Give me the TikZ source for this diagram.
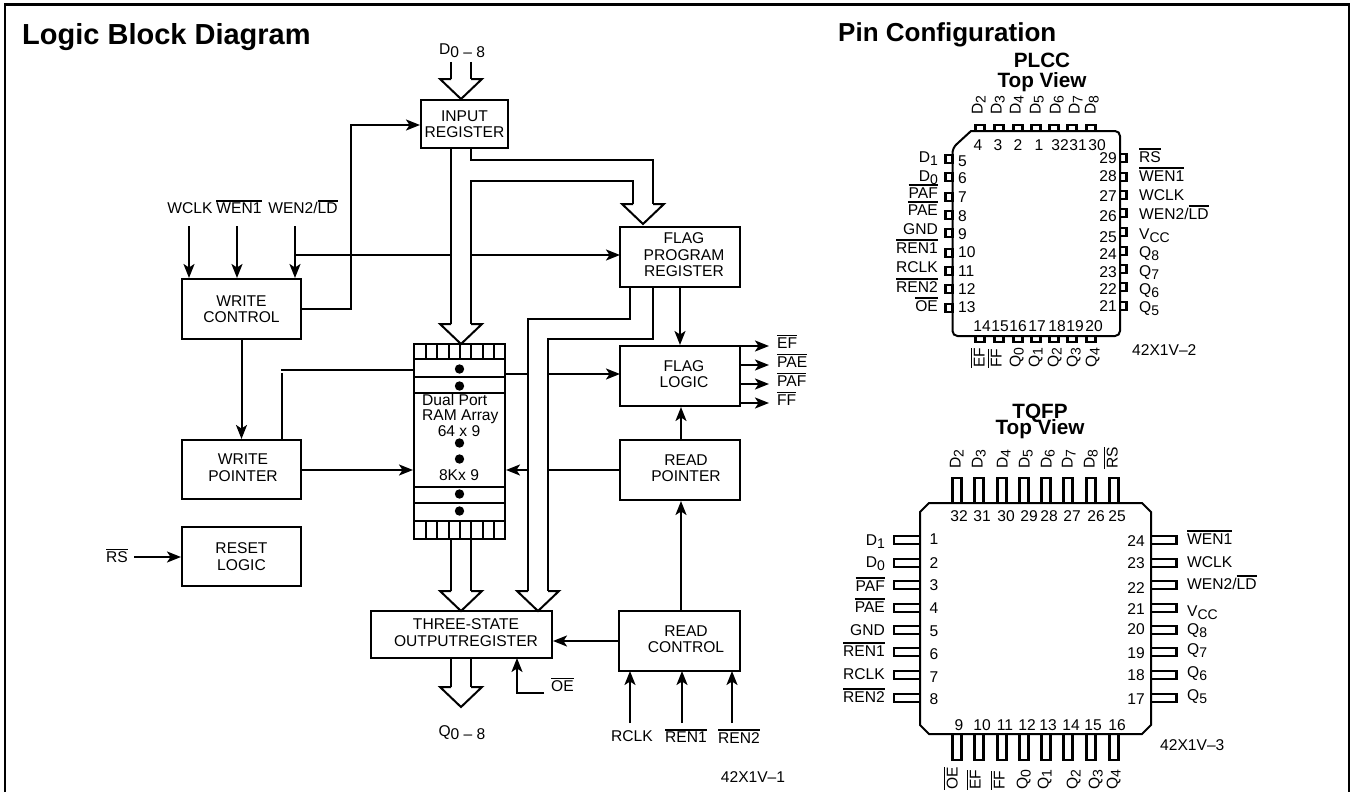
\documentclass[tikz,border=0pt]{standalone}
\usepackage{fontspec}
\setmainfont{Liberation Sans}
\usetikzlibrary{arrows.meta}

\newcommand{\ovl}[1]{\leavevmode\vbox{\hrule height 1.6pt \kern1.6pt\hbox{#1}}}
\newcommand{\pinsub}[2]{#1\raisebox{-3pt}{\fontsize{14}{14}\selectfont #2}}
\newcommand{\nudged}[2]{\hspace*{#1}\begin{tabular}{@{}c@{}}#2\end{tabular}}

\begin{document}
\begin{tikzpicture}[x=1pt,y=-1pt,>={Stealth[length=14pt,width=11pt,inset=3.5pt]},
  lab/.style={inner sep=0pt,font=\fontsize{15.6}{16.5}\selectfont,align=center},
  blockbox/.style={lab,draw,line width=2pt},
  wire/.style={line width=2pt},
  chip/.style={line width=2pt},
  pinbox/.style={line width=2.7pt},
  headline/.style={inner sep=0pt,font=\bfseries\fontsize{29}{29}\selectfont},
  subhead/.style={inner sep=0pt,align=center,font=\bfseries\fontsize{20.7}{20}\selectfont},
  bushead/.pic={\draw[wire,miter limit=10] (-10,-20) -- (-21,-20) -- (0,0) -- (21,-20) -- (10,-20);}]
\useasboundingbox (0,0) rectangle (1351,792);

% frame
\coordinate (frameA) at (5,792);
\coordinate (frameB) at (5,4.5);
\coordinate (frameC) at (1349,4.5);
\coordinate (frameD) at (1349,792);
\draw[line width=2.6pt] (frameA) -- (frameB) -- (frameC) -- (frameD);

% titles
\node[headline,anchor=base west] (logictitle) at (22,45) {Logic Block Diagram};
\node[headline,anchor=base west,font=\bfseries\fontsize{26}{26}\selectfont] (pintitle) at (838,42) {Pin Configuration};
\node[subhead] (plcctitle) at (1042,72) {PLCC\\Top View};
\node[subhead] (tqfptitle) at (1040,421) {TQFP\\[-4pt]Top View};

% blocks
\node[blockbox,minimum width=87,minimum height=48] (inreg) at (464.5,124) {INPUT\\REGISTER};
\node[blockbox,minimum width=119,minimum height=60] (wctrl) at (241.5,309) {WRITE\\CONTROL};
\node[blockbox,minimum width=120,minimum height=60] (fpreg) at (680,257) {\nudged{8pt}{FLAG\\PROGRAM\\REGISTER}};
\node[blockbox,minimum width=120,minimum height=60] (flog) at (680,376) {\nudged{8pt}{FLAG\\LOGIC}};
\node[blockbox,minimum width=119,minimum height=59] (wptr) at (241.5,469.5) {\nudged{3pt}{WRITE\\POINTER}};
\node[blockbox,minimum width=120,minimum height=60] (rptr) at (680,470) {\nudged{12pt}{READ\\POINTER}};
\node[blockbox,minimum width=119,minimum height=59] (rstl) at (241.5,556.5) {RESET\\LOGIC};
\node[blockbox,minimum width=181,minimum height=47] (tsreg) at (461.5,634.5) {\nudged{9pt}{THREE-STATE\\OUTPUTREGISTER}};
\node[blockbox,minimum width=121,minimum height=60] (rctrl) at (679.5,641) {\nudged{13pt}{READ\\CONTROL}};

% RAM array
\node[blockbox,minimum width=91,minimum height=195] (ram) at (459.5,441.5) {};
\foreach \y in {359,377,393,487,503,521} \draw[wire] (ram.west |- 0,\y) -- (ram.east |- 0,\y);
\foreach \x in {426,437,449,460,471,483,494} {
  \draw[line width=1.6pt] (\x,344) -- (\x,359);
  \draw[line width=1.6pt] (\x,521) -- (\x,539);
}
\foreach \y in {369,386,443,459,494,511} \fill (459.5,\y) circle (4.7);
\node[lab,anchor=mid west] (ramA) at (422,403) {Dual Port};
\node[lab,anchor=mid west] (ramB) at (422,418) {RAM Array};
\node[lab] (ramC) at (459,431) {64 x 9};
\node[lab] (ramD) at (459,475) {8Kx 9};

% free ends and bus rails
\coordinate (dl) at (451,62);      \coordinate (dr) at (470.5,62);
\coordinate (dtipl) at (451,79);   \coordinate (dtipr) at (470.5,79);
\coordinate (ramtl) at (451,324);  \coordinate (ramtr) at (470.5,324);
\coordinate (fptl) at (633,204);   \coordinate (fptr) at (653,204);
\coordinate (tsl) at (451,591);    \coordinate (tsr) at (471,591);
\coordinate (tsfl) at (528,591);   \coordinate (tsfr) at (548,591);
\coordinate (ql) at (451,687);     \coordinate (qr) at (471,687);
\coordinate (fpin) at (620,255);   \coordinate (flin) at (620,374);
\coordinate (wpout) at (301,470);  \coordinate (rpout) at (620,470);

% buses
\draw[wire] (dl) -- (dtipl);
\draw[wire] (dr) -- (dtipr);
\pic at (461,99) {bushead};
\draw[wire] (ramtl |- inreg.south) -- (ramtl);
\draw[wire] (ramtr) -- (470.5,181) -- (633,181) -- (fptl);
\draw[wire] (470.5,148) -- (470.5,160) -- (653,160) -- (fptr);
\pic at (461,344) {bushead};
\pic at (643,224) {bushead};
\draw[wire] (630,287) -- (630,319) -- (528,319) -- (tsfl);
\draw[wire] (653,287) -- (653,339) -- (548,339) -- (tsfr);
\pic at (538,611) {bushead};
\draw[wire] (tsl |- ram.south) -- (tsl);
\draw[wire] (tsr |- ram.south) -- (tsr);
\pic at (461,611) {bushead};
\draw[wire] (ql |- tsreg.south) -- (ql);
\draw[wire] (qr |- tsreg.south) -- (qr);
\pic at (461,707) {bushead};
\node[lab] (dbus) at (462,51) {D\raisebox{-3pt}{0 – 8}};
\node[lab] (qbus) at (462,733) {Q\raisebox{-3pt}{0 – 8}};

% write side
\coordinate (wclk) at (189,226);
\coordinate (wena) at (237,226);
\coordinate (wenb) at (295,226);
\coordinate (rsin) at (134,557);
\node[lab] (wclklab) at (190,208) {WCLK};
\node[lab] (wenalab) at (239,207) {\ovl{WEN1}};
\node[lab] (wenblab) at (303,207) {WEN2/\ovl{LD}};
\draw[wire,->] (wclk) -- (wclk |- wctrl.north);
\draw[wire,->] (wena) -- (wena |- wctrl.north);
\draw[wire,->] (wenb) -- (wenb |- wctrl.north);
\draw[wire] (wenb |- fpin) -- (ramtl |- fpin);
\draw[wire,->] (ramtr |- fpin) -- (fpin);
\draw[wire,->] (wctrl.east) -- (351,309) -- (351,125) -- (inreg.west |- 0,125);
\draw[wire,->] (wctrl.south) -- (wptr.north);
\draw[wire] (wptr.north -| 282,0) -- (282,373);
\draw[wire] (281,370) -- (ram.west |- 0,370);
\draw[wire,->] (wpout) -- (ram.west |- wpout);
\node[lab] (rslab) at (117,556) {\ovl{RS}};
\draw[wire,->] (rsin) -- (rstl.west |- rsin);

% flag side
\draw[wire] (ram.east |- flin) -- (528,374);
\draw[wire,->] (548,374) -- (flin);
\draw[wire,->] (fpreg.south) -- (flog.north);
\draw[wire,->] (rptr.north -| 681,0) -- (flog.south -| 681,0);
\draw[wire] (rpout) -- (548,470);
\draw[wire,->] (528,470) -- (ram.east |- rpout);
\draw[wire,->] (rctrl.north -| 681,0) -- (rptr.south -| 681,0);
\draw[wire,->] (rctrl.west) -- (tsreg.east |- rctrl.west);
\foreach \y/\t/\m in {346/EF/efo,365/PAE/paeo,384/PAF/pafo,403/FF/ffo} {
  \node[lab,anchor=mid west] (\m) at (777,\y) {\ovl{\t}};
  \draw[wire,->] (flog.east |- 0,\y) -- (769,\y);
}

% read side
\coordinate (oein) at (544,693);
\node[lab,anchor=mid west] (oelab) at (551,689) {\ovl{OE}};
\draw[wire,->] (oein) -- (517,693) -- (517,658);
\foreach \x/\l/\t/\m in {630/632/RCLK/rclkin,682/686/\ovl{REN1}/rena,732/739/\ovl{REN2}/renb} {
  \node[lab] (\m) at (\l,736) {\t};
  \draw[wire,->] (\x,723) -- (\x,671);
}
\node[lab] (partA) at (753,777) {42X1V–1};

% PLCC package
\draw[chip,rounded corners=5pt] (971,131) -- (1120,131) -- (1120,336) -- (952.5,336) -- (952.5,148) [sharp corners] -- cycle;
\foreach \x in {980,999,1018,1036,1054,1072,1091} {
  \draw[pinbox] (\x-4.5,125) rectangle (\x+4.5,131);
  \draw[pinbox] (\x-4.5,336) rectangle (\x+4.5,342);
}
\foreach \y in {159,177,197,215,233,253,271,289,308} \draw[pinbox] (945.5,\y-4) rectangle (952.5,\y+4);
\foreach \y in {158,177,195,213,232,251,269,287,306} \draw[pinbox] (1120,\y-4) rectangle (1126.5,\y+4);
\foreach \x/\t in {978/4,998/3,1018/2,1039/1,1060/32,1078/31,1097/30}
  \node[lab] (pt\t) at (\x,145) {\t};
\foreach \x/\t in {982/14,1000/15,1018/16,1037/17,1057/18,1075/19,1094/20}
  \node[lab] (pb\t) at (\x,326) {\t};
\foreach \y/\t in {162/5,179/6,198/7,217/8,235/9,253/10,272/11,290/12,308/13}
  \node[lab,anchor=mid west] (pl\t) at (958,\y+1.5) {\t};
\foreach \y/\t in {159/29,177/28,197/27,217/26,238/25,255/24,273/23,290/22,307/21}
  \node[lab,anchor=mid east] (pr\t) at (1117,\y+1.5) {\t};
\foreach \y/\t/\m in {158/\pinsub{D}{1}/a,177/\pinsub{D}{0}/b,194/\ovl{PAF}/c,211/\ovl{PAE}/d,230/GND/e,249/\ovl{REN1}/f,268/RCLK/g,288/\ovl{REN2}/h,307/\ovl{OE}/i}
  \node[lab,anchor=mid east] (pln\m) at (938,\y+1.5) {\t};
\foreach \y/\t/\m in {158/\ovl{RS}/a,177/\ovl{WEN1}/b,196/WCLK/c,215/{WEN2/\ovl{LD}}/d,235/\pinsub{V}{CC}/e,253/\pinsub{Q}{8}/f,272/\pinsub{Q}{7}/g,290/\pinsub{Q}{6}/h,308/\pinsub{Q}{5}/i}
  \node[lab,anchor=mid west] (prn\m) at (1139,\y+1.5) {\t};
\foreach \x/\t/\m in {980/D/2,999/D/3,1018/D/4,1038/D/5,1058/D/6,1077/D/7,1093/D/8}
  \node[lab,rotate=90,anchor=mid west] (ptn\m) at (\x,115) {\pinsub{\t}{\m}};
\foreach \x/\t/\m in {982/\ovl{EF}/a,999/\ovl{FF}/b,1018/\pinsub{Q}{0}/c,1037/\pinsub{Q}{1}/d,1056/\pinsub{Q}{2}/e,1075/\pinsub{Q}{3}/f,1094/\pinsub{Q}{4}/g}
  \node[lab,rotate=90,anchor=mid west] (pbn\m) at (\x,368) {\t};
\node[lab,anchor=mid west] (partB) at (1132,353) {42X1V–2};

% TQFP package
\draw[chip] (929,503) -- (1142,503) -- (1151,512) -- (1151,725) -- (1142,734) -- (929,734) -- (920,725) -- (920,512) -- cycle;
\foreach \x in {957,979,1002,1024,1046,1068,1091,1114} {
  \draw[pinbox] (\x-4.5,478) rectangle (\x+4.5,503);
  \draw[pinbox] (\x-4.5,734) rectangle (\x+4.5,760);
}
\foreach \y in {540,563,585,608,630,652,675,698} {
  \draw[pinbox] (894,\y-4) rectangle (920,\y+4);
  \draw[pinbox] (1151,\y-4) rectangle (1176.5,\y+4);
}
\foreach \x/\t in {959/32,982/31,1006/30,1029/29,1049/28,1072/27,1096/26,1117/25}
  \node[lab] (qt\t) at (\x,516) {\t};
\foreach \x/\t in {959/9,982/10,1005/11,1027/12,1048/13,1071/14,1093/15,1117/16}
  \node[lab] (qb\t) at (\x,725) {\t};
\foreach \y/\t in {539/1,563/2,585/3,608/4,631/5,654/6,677/7,699/8}
  \node[lab] (ql\t) at (934,\y) {\t};
\foreach \y/\t in {541/24,563/23,588/22,609/21,629/20,653/19,675/18,699/17}
  \node[lab] (qr\t) at (1136,\y) {\t};
\foreach \y/\t/\m in {541/\pinsub{D}{1}/a,563/\pinsub{D}{0}/b,587/\ovl{PAF}/c,608/\ovl{PAE}/d,631/GND/e,652/\ovl{REN1}/f,675/RCLK/g,698/\ovl{REN2}/h}
  \node[lab,anchor=mid east] (qln\m) at (885,\y+1.5) {\t};
\foreach \y/\t/\m in {540/\ovl{WEN1}/a,563/WCLK/b,585/{WEN2/\ovl{LD}}/c,612/\pinsub{V}{CC}/d,630/\pinsub{Q}{8}/e,650/\pinsub{Q}{7}/f,673/\pinsub{Q}{6}/g,696/\pinsub{Q}{5}/h}
  \node[lab,anchor=mid west] (qrn\m) at (1187,\y+1.5) {\t};
\foreach \x/\t/\m in {958/\pinsub{D}{2}/a,980/\pinsub{D}{3}/b,1005/\pinsub{D}{4}/c,1027/\pinsub{D}{5}/d,1049/\pinsub{D}{6}/e,1070/\pinsub{D}{7}/f,1092/\pinsub{D}{8}/g,1115/\ovl{RS}/h}
  \node[lab,rotate=90,anchor=mid west] (qtn\m) at (\x,469) {\t};
\foreach \x/\t/\m in {955/\ovl{OE}/a,978/\ovl{EF}/b,1002/\ovl{FF}/c,1025/\pinsub{Q}{0}/d,1046/\pinsub{Q}{1}/e,1075/\pinsub{Q}{2}/f,1097/\pinsub{Q}{3}/g,1115/\pinsub{Q}{4}/h}
  \node[lab,rotate=90,anchor=mid west] (qbn\m) at (\x,790) {\t};
\node[lab,anchor=mid west] (partC) at (1160,748) {42X1V–3};
\end{tikzpicture}
\end{document}
